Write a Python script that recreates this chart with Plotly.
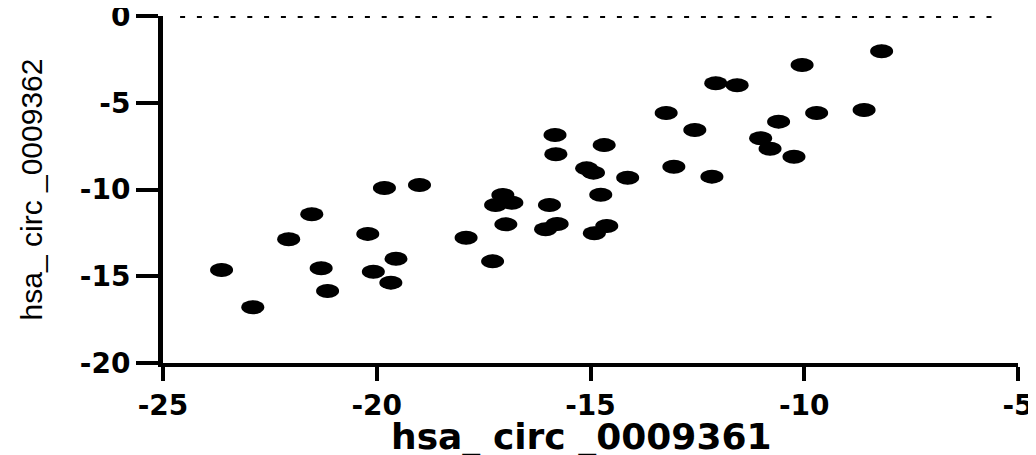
import plotly.graph_objects as go

# ---- data ----
x_0009361 = [
    -23.63, -22.90, -22.06, -21.52, -21.30, -21.15, -20.21, -20.08, -19.82, -19.67,
    -19.55, -19.00, -17.91, -17.29, -15.83, -14.68, -15.81, -15.09, -14.93, -14.13,
    -17.05, -17.22, -16.84, -15.96, -14.76, -16.98, -16.05, -15.78, -14.91, -14.62,
    -8.19, -10.05, -12.07, -11.57, -13.23, -12.56, -9.71, -8.60, -10.60, -11.02,
    -10.80, -10.24, -13.05, -12.16,
]
y_0009362 = [
    -14.64, -16.79, -12.87, -11.43, -14.54, -15.85, -12.56, -14.74, -9.91, -15.37,
    -13.99, -9.74, -12.78, -14.14, -6.86, -7.44, -7.97, -8.78, -9.03, -9.32,
    -10.32, -10.89, -10.76, -10.89, -10.30, -12.01, -12.29, -11.99, -12.52, -12.10,
    -2.03, -2.82, -3.88, -3.99, -5.59, -6.57, -5.59, -5.42, -6.09, -7.05,
    -7.65, -8.11, -8.69, -9.26,
]
x_ticks = [-25, -20, -15, -10, -5]
y_ticks = [-20, -15, -10, -5, 0]
x_title = "hsa_ circ _0009361"
y_title = "hsa_ circ _0009362"
reference_y = 0

TICK_FONT = dict(family="DejaVu Sans", size=28, color="black", weight="bold")

fig = go.Figure()
fig.add_trace(go.Scatter(
    x=x_0009361, y=y_0009362, mode="markers",
    marker=dict(color="black", size=13, line=dict(width=0)),
    cliponaxis=False, showlegend=False,
))

# elliptical dots (anchored at each data point, sized in pixels)
for xv, yv in zip(x_0009361, y_0009362):
    fig.add_shape(
        type="circle", xref="x", yref="y",
        xsizemode="pixel", ysizemode="pixel",
        xanchor=xv, yanchor=yv,
        x0=-11.5, x1=11.5, y0=-7, y1=7,
        fillcolor="black", line=dict(width=0),
    )

# dotted reference line at y = 0
fig.add_shape(
    type="line", xref="x", yref="y",
    x0=-24.6, x1=-5.35, y0=reference_y, y1=reference_y,
    line=dict(color="black", width=4, dash="5px,11.8px"),
)

# x-axis title as an annotation so it can sit close to the bottom edge
fig.add_annotation(
    text=x_title, xref="paper", yref="paper", x=0.49, y=0,
    xanchor="center", yanchor="top", yshift=-51, showarrow=False,
    font=dict(family="DejaVu Sans", size=36, color="black", weight="bold"),
)

# the page body adds an 8px margin, so the figure is 8px smaller than the window
fig.update_layout(
    width=1028, height=447,
    margin=dict(l=155, r=18, t=8, b=92),
    paper_bgcolor="white", plot_bgcolor="white",
    showlegend=False,
)
fig.update_xaxes(
    range=[-25, -5], tickvals=x_ticks, ticktext=[str(v) for v in x_ticks],
    showgrid=False, zeroline=False, automargin=False, ticklabeloverflow="allow",
    showline=True, linecolor="black", linewidth=4,
    ticks="outside", ticklen=14, tickwidth=4, tickcolor="black",
    tickfont=TICK_FONT,
)
fig.update_yaxes(
    range=[-20, 0], tickvals=y_ticks, ticktext=[str(v) for v in y_ticks],
    showgrid=False, zeroline=False, automargin=False, ticklabeloverflow="allow",
    showline=True, linecolor="black", linewidth=5,
    ticks="outside", ticklen=22, tickwidth=4, tickcolor="black",
    tickfont=TICK_FONT,
    title=dict(text=y_title, standoff=30,
               font=dict(family="Liberation Sans", size=30, color="black")),
)

fig.write_html("out.html")
